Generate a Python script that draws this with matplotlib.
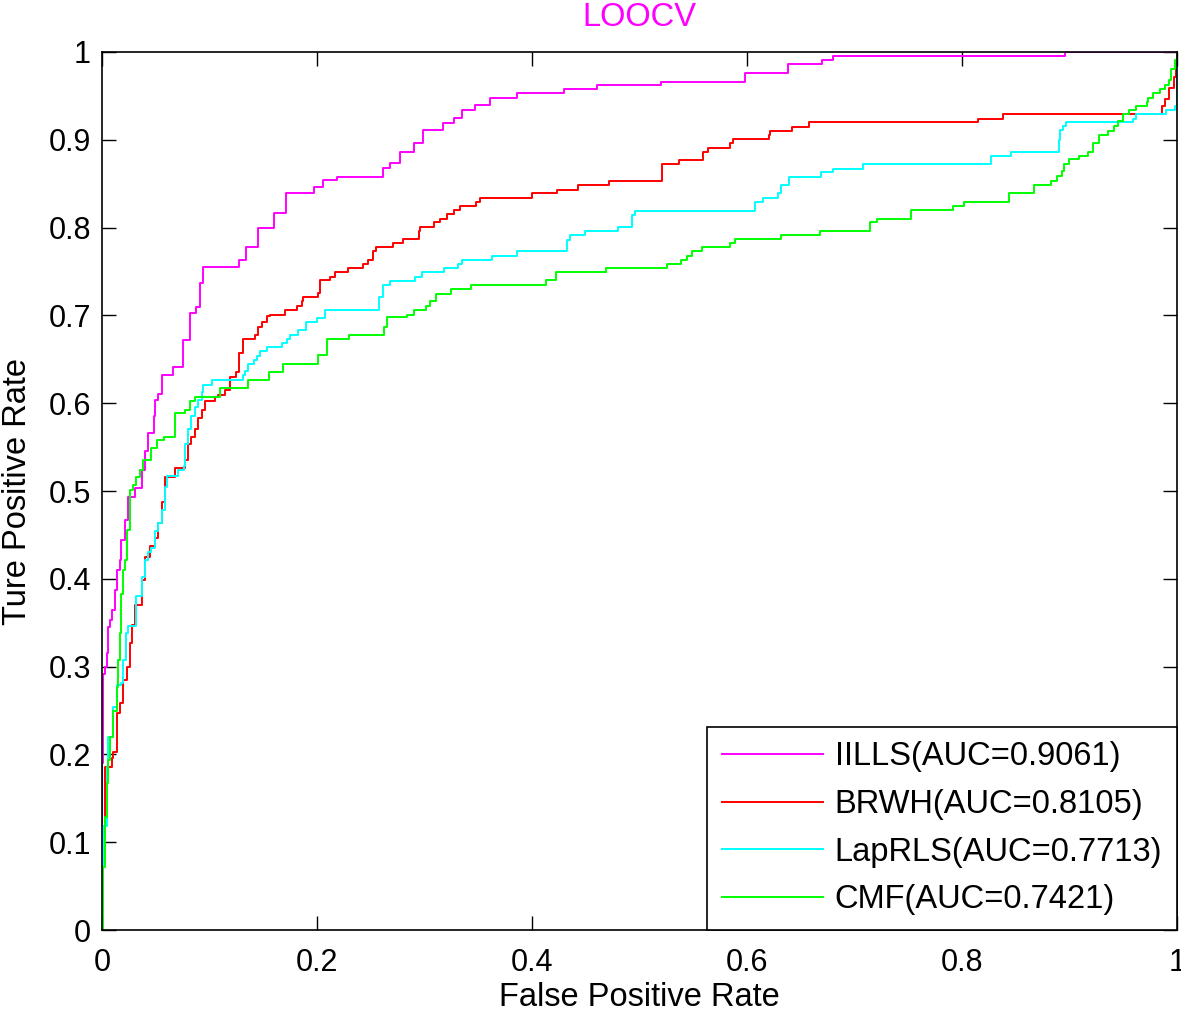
import matplotlib
matplotlib.use("Agg")
import matplotlib.pyplot as plt

plt.rcParams['font.family'] = ['Liberation Sans', 'DejaVu Sans']

# --- ROC data (fpr, tpr), step corners ---
iills_fpr = [0, 0, 0.001, 0.003, 0.0044, 0.0059, 0.0074, 0.009, 0.012, 0.0137, 0.0167, 0.018,
             0.0214, 0.0245, 0.031, 0.037, 0.04, 0.043, 0.048, 0.049, 0.052, 0.0555, 0.066,
             0.075, 0.082, 0.087, 0.091, 0.094, 0.127, 0.134, 0.145, 0.16, 0.171, 0.197, 0.206,
             0.219, 0.261, 0.268, 0.277, 0.29, 0.299, 0.317, 0.327, 0.335, 0.347, 0.361, 0.386,
             0.43, 0.46, 0.52, 0.598, 0.638, 0.67, 0.68, 0.896, 1.0]
iills_tpr = [0, 0.19, 0.292, 0.30, 0.315, 0.345, 0.353, 0.364, 0.387, 0.41, 0.421, 0.444,
             0.467, 0.4935, 0.503, 0.524, 0.545, 0.566, 0.585, 0.604, 0.611, 0.632, 0.641,
             0.672, 0.703, 0.71, 0.737, 0.755, 0.763, 0.778, 0.80, 0.817, 0.839, 0.846, 0.854,
             0.858, 0.868, 0.874, 0.886, 0.896, 0.911, 0.919, 0.925, 0.934, 0.94, 0.948, 0.953,
             0.958, 0.962, 0.966, 0.976, 0.986, 0.991, 0.995, 1.0, 1.0]

brwh_fpr = [0, 0, 0.003, 0.009, 0.0105, 0.0137, 0.0167, 0.0198, 0.023, 0.026, 0.0276, 0.0307,
            0.037, 0.04, 0.0447, 0.049, 0.052, 0.0555, 0.0586, 0.068, 0.077, 0.080, 0.083,
            0.0865, 0.0896, 0.0927, 0.096, 0.105, 0.108, 0.114, 0.119, 0.125, 0.127, 0.131,
            0.142, 0.145, 0.149, 0.153, 0.156, 0.170, 0.181, 0.186, 0.187, 0.201, 0.203, 0.212,
            0.217, 0.229, 0.243, 0.247, 0.252, 0.255, 0.271, 0.28, 0.295, 0.296, 0.309, 0.314,
            0.321, 0.327, 0.333, 0.348, 0.352, 0.40, 0.423, 0.443, 0.472, 0.521, 0.537, 0.559,
            0.564, 0.584, 0.587, 0.620, 0.621, 0.642, 0.658, 0.815, 0.838, 0.986, 0.989, 0.993,
            0.997, 0.999, 1.0]
brwh_tpr = [0, 0.11, 0.186, 0.196, 0.203, 0.247, 0.258, 0.285, 0.30, 0.327, 0.347, 0.37,
            0.399, 0.425, 0.437, 0.446, 0.463, 0.488, 0.516, 0.526, 0.535, 0.554, 0.562,
            0.571, 0.583, 0.592, 0.602, 0.607, 0.609, 0.615, 0.63, 0.636, 0.657, 0.673,
            0.678, 0.687, 0.693, 0.699, 0.701, 0.706, 0.711, 0.716, 0.721, 0.725, 0.74, 0.744,
            0.749, 0.754, 0.759, 0.763, 0.773, 0.778, 0.782, 0.787, 0.796, 0.801, 0.806, 0.81,
            0.815, 0.82, 0.825, 0.829, 0.834, 0.839, 0.843, 0.849, 0.853, 0.872, 0.877, 0.886,
            0.891, 0.896, 0.901, 0.905, 0.910, 0.915, 0.92, 0.924, 0.929, 0.938, 0.947, 0.959,
            0.972, 0.991, 1.0]

laprls_fpr = [0, 0, 0.001, 0.0044, 0.006, 0.0105, 0.0137, 0.018, 0.0198, 0.022, 0.0245, 0.032,
              0.037, 0.04, 0.0425, 0.046, 0.049, 0.052, 0.0555, 0.0586, 0.060, 0.071, 0.076,
              0.077, 0.080, 0.083, 0.0865, 0.0896, 0.0927, 0.094, 0.102, 0.131, 0.133, 0.136,
              0.141, 0.144, 0.147, 0.153, 0.167, 0.172, 0.175, 0.182, 0.19, 0.20, 0.207, 0.258,
              0.261, 0.268, 0.291, 0.298, 0.318, 0.331, 0.335, 0.363, 0.386, 0.433, 0.435, 0.449,
              0.48, 0.493, 0.496, 0.607, 0.615, 0.629, 0.632, 0.639, 0.669, 0.68, 0.708, 0.827,
              0.846, 0.89, 0.891, 0.894, 0.897, 0.959, 0.962, 0.99, 0.998, 1.0]
laprls_tpr = [0, 0.06, 0.118, 0.186, 0.22, 0.254, 0.279, 0.281, 0.307, 0.338, 0.346, 0.38,
              0.402, 0.421, 0.431, 0.435, 0.454, 0.463, 0.478, 0.505, 0.517, 0.524, 0.528,
              0.554, 0.571, 0.585, 0.596, 0.604, 0.613, 0.621, 0.626, 0.632, 0.637, 0.645,
              0.649, 0.654, 0.659, 0.664, 0.668, 0.673, 0.678, 0.683, 0.692, 0.697, 0.706, 0.721,
              0.735, 0.739, 0.744, 0.749, 0.754, 0.758, 0.763, 0.768, 0.773, 0.786, 0.792, 0.796,
              0.801, 0.814, 0.819, 0.829, 0.834, 0.839, 0.849, 0.858, 0.863, 0.867, 0.872, 0.882,
              0.886, 0.90, 0.911, 0.916, 0.92, 0.924, 0.929, 0.934, 0.938, 1.0]

cmf_fpr = [0, 0.0012, 0.0028, 0.0044, 0.0053, 0.0074, 0.0105, 0.0137, 0.015, 0.0167, 0.018,
           0.0198, 0.0214, 0.023, 0.026, 0.029, 0.032, 0.035, 0.038, 0.046, 0.051, 0.058,
           0.068, 0.077, 0.082, 0.0865, 0.11, 0.136, 0.155, 0.168, 0.201, 0.209, 0.23, 0.262,
           0.265, 0.284, 0.29, 0.301, 0.305, 0.311, 0.325, 0.343, 0.413, 0.422, 0.469, 0.526,
           0.539, 0.544, 0.549, 0.558, 0.584, 0.589, 0.632, 0.668, 0.714, 0.721, 0.753, 0.792,
           0.802, 0.844, 0.867, 0.883, 0.888, 0.893, 0.895, 0.900, 0.909, 0.917, 0.922, 0.927,
           0.936, 0.941, 0.945, 0.950, 0.955, 0.962, 0.972, 0.973, 0.978, 0.984, 0.989, 0.993,
           0.994, 0.998, 1.0]
cmf_tpr = [0, 0.072, 0.129, 0.167, 0.194, 0.22, 0.25, 0.277, 0.307, 0.338, 0.383,
           0.41, 0.421, 0.456, 0.501, 0.507, 0.516, 0.524, 0.535, 0.549, 0.558, 0.561,
           0.589, 0.592, 0.602, 0.607, 0.617, 0.626, 0.636, 0.645, 0.655, 0.673, 0.678, 0.687,
           0.698, 0.701, 0.706, 0.711, 0.716, 0.724, 0.730, 0.735, 0.74, 0.749, 0.754, 0.759,
           0.763, 0.768, 0.773, 0.778, 0.782, 0.787, 0.792, 0.796, 0.806, 0.81, 0.82, 0.825,
           0.829, 0.839, 0.849, 0.853, 0.859, 0.864, 0.872, 0.878, 0.882, 0.886, 0.896, 0.905,
           0.910, 0.916, 0.921, 0.929, 0.934, 0.939, 0.943, 0.948, 0.953, 0.958, 0.962, 0.968,
           0.981, 0.991, 1.0]

labels = ['IILLS(AUC=0.9061)', 'BRWH(AUC=0.8105)', 'LapRLS(AUC=0.7713)', 'CMF(AUC=0.7421)']
colors = ['#ff00ff', '#ff0000', '#00ffff', '#00ff00']
ticks = [0, 0.1, 0.2, 0.3, 0.4, 0.5, 0.6, 0.7, 0.8, 0.9, 1]
xticks = [0, 0.2, 0.4, 0.6, 0.8, 1]

fs = 23.5
fig = plt.figure(figsize=(11.81, 10.13), dpi=100)
ax = fig.add_axes([0.0864, 0.0819, 0.9102, 0.8668])

series = [(iills_fpr, iills_tpr), (brwh_fpr, brwh_tpr),
          (laprls_fpr, laprls_tpr), (cmf_fpr, cmf_tpr)]
for (fx, ty), lab, c in zip(series, labels, colors):
    ax.plot(fx, ty, drawstyle='steps-post', color=c, lw=1.4, label=lab)

ax.set_xlim(0, 1)
ax.set_ylim(0, 1)
ax.set_xticks(xticks)
ax.set_xticklabels(['0', '0.2', '0.4', '0.6', '0.8', '1'])
ax.set_yticks(ticks)
ax.set_yticklabels(['0', '0.1', '0.2', '0.3', '0.4', '0.5', '0.6', '0.7', '0.8', '0.9', '1'])
ax.tick_params(direction='in', length=10, width=1, top=True, right=True, labelsize=22)
ax.tick_params(axis='x', pad=13)
ax.tick_params(axis='y', pad=8)
for s in ax.spines.values():
    s.set_linewidth(1.2)

ax.set_xlabel('False Positive Rate', fontsize=fs, labelpad=3)
ax.set_ylabel('Ture Positive Rate', fontsize=fs, labelpad=11)
ax.set_title('LOOCV', fontsize=fs, color='#ff00ff', pad=19)

leg = ax.legend(loc='lower right', fontsize=fs, frameon=True, fancybox=False,
                borderaxespad=0, handlelength=3.1, handletextpad=0.37,
                labelspacing=0.51, borderpad=0.45)
leg.get_frame().set_edgecolor('black')
leg.get_frame().set_linewidth(1.2)
leg.get_frame().set_alpha(1)

fig.savefig('out.png', dpi=100)
